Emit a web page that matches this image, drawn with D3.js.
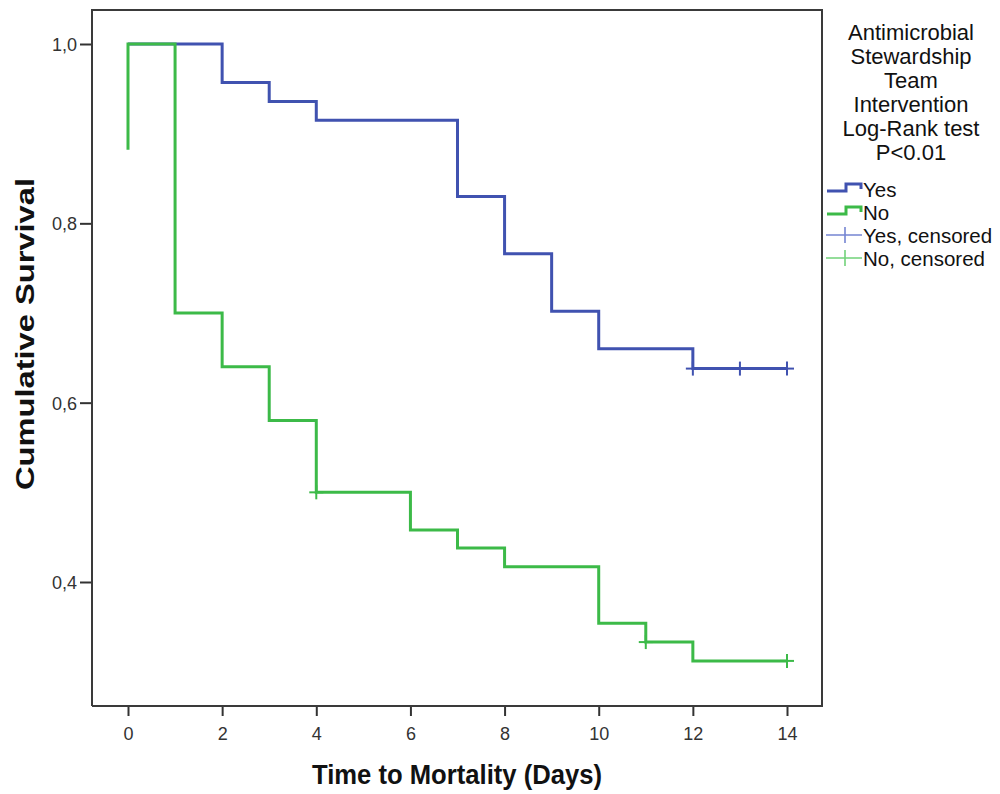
<!DOCTYPE html>
<html>
<head>
<meta charset="utf-8">
<script src="https://cdn.jsdelivr.net/npm/d3@7"></script>
<style>
  body { margin: 0; background: #fff; }
  svg { display: block; font-family: "Liberation Sans", Arial, sans-serif; }
</style>
</head>
<body>
<svg id="chart" width="1000" height="794"></svg>
<script>
// Kaplan-Meier steps
const yesTimes = [0, 2, 3, 4, 7, 8, 9, 10, 12, 14];
const yesSurv  = [1.0, 0.957, 0.936, 0.915, 0.830, 0.766, 0.702, 0.660, 0.638, 0.638];
const yesCensTimes = [12, 13, 14];
const yesCensSurv  = [0.638, 0.638, 0.638];

const noTimes = [0, 0, 1, 2, 3, 4, 6, 7, 8, 10, 11, 12, 14];
const noSurv  = [0.882, 1.0, 0.700, 0.640, 0.580, 0.500, 0.458, 0.438, 0.417, 0.354, 0.333, 0.312, 0.312];
const noCensTimes = [4, 11, 14];
const noCensSurv  = [0.500, 0.333, 0.312];

const xTicks = [0, 2, 4, 6, 8, 10, 12, 14];
const yTicks = [0.4, 0.6, 0.8, 1.0];

const legendTitle = ["Antimicrobial", "Stewardship", "Team", "Intervention", "Log-Rank test", "P<0.01"];
const legendLabels = ["Yes", "No", "Yes, censored", "No, censored"];

const blue = "#4052b0", green = "#3cba48";
const blueLight = "#7585d2", greenLight = "#72d27a";

const svg = d3.select("#chart");

const frame = { left: 92, right: 822, top: 10, bottom: 706 };

const x = d3.scaleLinear().domain([0, 14]).range([128, 787]);
const y = d3.scaleLinear().domain([0.4, 1.0]).range([582, 44]);

// axes
const xAxis = svg.append("g")
    .attr("transform", `translate(0,${frame.bottom})`)
    .call(d3.axisBottom(x).tickValues(xTicks).tickFormat(d3.format("d")).tickSize(10).tickPadding(11));
const yAxis = svg.append("g")
    .attr("transform", `translate(${frame.left},0)`)
    .call(d3.axisLeft(y).tickValues(yTicks)
        .tickFormat(d => d3.format(".1f")(d).replace(".", ","))
        .tickSize(12).tickPadding(3));

[xAxis, yAxis].forEach(g => {
    g.select(".domain").remove();
    g.selectAll(".tick line").attr("stroke", "#333").attr("stroke-width", 2);
    g.selectAll(".tick text")
        .attr("fill", "#333")
        .style("font-size", "18px")
        .style("font-family", "'Liberation Sans', Arial, sans-serif");
});
yAxis.selectAll(".tick text").attr("dy", "0.36em");

// frame
svg.append("path")
    .attr("d", `M${frame.left},${frame.bottom}V${frame.top}H${frame.right}V${frame.bottom}H${frame.left}`)
    .attr("fill", "none")
    .attr("stroke", "#3a3a3a")
    .attr("stroke-width", 2);

// survival lines
const line = d3.line()
    .x(d => x(d[0]))
    .y(d => y(d[1]))
    .curve(d3.curveStepAfter);

const yesData = d3.zip(yesTimes, yesSurv);
const noData = d3.zip(noTimes, noSurv);

svg.append("path")
    .datum(yesData)
    .attr("fill", "none")
    .attr("stroke", blue)
    .attr("stroke-width", 3)
    .attr("d", line);

svg.append("path")
    .datum(noData)
    .attr("fill", "none")
    .attr("stroke", green)
    .attr("stroke-width", 3)
    .attr("d", line);

// censored marks
function censMarks(times, surv, color) {
    const pts = d3.zip(times, surv);
    const g = svg.append("g").attr("stroke", color).attr("stroke-width", 2);
    g.selectAll("line.v").data(pts).join("line")
        .attr("x1", d => x(d[0])).attr("x2", d => x(d[0]))
        .attr("y1", d => y(d[1]) - 7).attr("y2", d => y(d[1]) + 7);
    g.selectAll("line.h").data(pts).join("line")
        .attr("x1", d => x(d[0]) - 7).attr("x2", d => x(d[0]) + 7)
        .attr("y1", d => y(d[1])).attr("y2", d => y(d[1]));
}
censMarks(yesCensTimes, yesCensSurv, blue);
censMarks(noCensTimes, noCensSurv, green);

// axis titles
svg.append("text")
    .attr("x", 457).attr("y", 784)
    .attr("text-anchor", "middle")
    .attr("textLength", 290)
    .attr("lengthAdjust", "spacingAndGlyphs")
    .style("font-size", "27px")
    .style("font-weight", "bold")
    .attr("fill", "#111")
    .text("Time to Mortality (Days)");

svg.append("text")
    .attr("transform", "translate(34,334) rotate(-90)")
    .attr("text-anchor", "middle")
    .attr("textLength", 312)
    .attr("lengthAdjust", "spacingAndGlyphs")
    .style("font-size", "25px")
    .style("font-weight", "bold")
    .attr("fill", "#111")
    .text("Cumulative Survival");

// legend
const legend = svg.append("g").style("font-size", "22px").attr("fill", "#111");

legend.selectAll("text.title").data(legendTitle).join("text")
    .attr("class", "title")
    .attr("x", 911)
    .attr("y", (d, i) => 40 + i * 24)
    .attr("text-anchor", "middle")
    .text(d => d);

const itemBase = [197, 220, 243, 266];
const items = legend.selectAll("g.item").data(legendLabels).join("g")
    .attr("class", "item")
    .attr("transform", (d, i) => `translate(0,${itemBase[i]})`);

items.append("text")
    .attr("x", 863)
    .attr("y", 0)
    .style("font-size", "20.5px")
    .text(d => d);

items.each(function(d, i) {
    const g = d3.select(this);
    if (i < 2) {
        g.append("path")
            .attr("d", "M827,-6H846V-13H861V-8")
            .attr("fill", "none")
            .attr("stroke", i === 0 ? blue : green)
            .attr("stroke-width", 3);
    } else {
        const c = i === 2 ? blueLight : greenLight;
        g.append("path")
            .attr("d", "M826,-8H862M845,-16V0")
            .attr("fill", "none")
            .attr("stroke", c)
            .attr("stroke-width", 1.6);
    }
});
</script>
</body>
</html>
